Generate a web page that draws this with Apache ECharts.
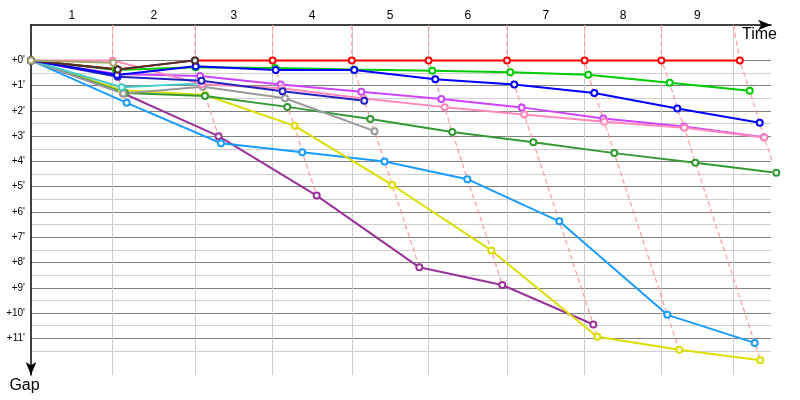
<!DOCTYPE html>
<html><head><meta charset="utf-8">
<script src="https://cdn.jsdelivr.net/npm/echarts@6/dist/echarts.min.js"></script>
<style>html,body{margin:0;padding:0;background:#fff}#c{width:800px;height:400px}</style>
</head><body><div id="c"></div>
<script>
// leader lap times (minutes) -> vertical lap lines
const lapTimes = [10.2, 20.5, 30.2, 40.1, 49.7, 59.5, 69.2, 78.8, 87.8];
const lapLabels = ['1','2','3','4','5','6','7','8','9'];
const gapLabelValues = [0,1,2,3,4,5,6,7,8,9,10,11];
const gapGridValues = [0,0.5,1,1.5,2,2.5,3,3.5,4,4.5,5,5.5,6,6.5,7,7.5,8,8.5,9,9.5,10,10.5,11,11.5];

// each rider: [time, gap] at start and at end of each lap
const purple     = [[0,0],[11.5,1.3],[23.44,3.0],[35.71,5.35],[48.54,8.19],[58.91,8.89],[70.29,10.45]];
const lightBlue  = [[0,0],[11.96,1.68],[23.75,3.28],[33.91,3.64],[44.19,4.0],[54.54,4.7],[66.04,6.37],[79.54,10.07],[90.46,11.18]];
const yellow     = [[0,0],[11.38,1.18],[21.75,1.37],[32.96,2.59],[45.15,4.93],[57.54,7.52],[70.79,10.94],[81.04,11.45],[91.16,11.87]];
const darkGreen  = [[0,0],[11.75,1.29],[21.75,1.41],[32.04,1.84],[42.41,2.32],[52.66,2.83],[62.79,3.24],[72.91,3.67],[83.04,4.05],[93.16,4.45]];
const gray       = [[0,0],[11.54,1.31],[21.46,1.04],[31.75,1.5],[42.94,2.8]];
const cyan       = [[0,0],[11.34,1.06],[21.34,0.91]];
const olive      = [[0,0],[10.29,0.09]];
const oliveGreen = [[0,0],[10.59,0.34]];
const magenta    = [[0,0],[10.75,0.54],[21.13,0.62],[31.21,0.95],[41.29,1.24],[51.29,1.53],[61.34,1.86],[71.54,2.3],[81.63,2.62],[91.63,3.04]];
const pink       = [[0,0],[10.21,0],[21.38,0.94],[31.38,1.1],[41.56,1.51],[51.71,1.85],[61.66,2.14],[71.66,2.43],[81.66,2.67],[91.66,3.05]];
const navy       = [[0,0],[10.84,0.65],[21.31,0.81],[31.44,1.22],[41.66,1.6]];
const green      = [[0,0],[10.63,0.38],[20.56,0.27],[30.5,0.3],[40.38,0.36],[50.16,0.41],[59.91,0.47],[69.66,0.57],[79.84,0.89],[89.84,1.2]];
const blue       = [[0,0],[10.75,0.58],[20.59,0.23],[30.59,0.38],[40.41,0.38],[50.54,0.75],[60.41,0.95],[70.41,1.29],[80.79,1.9],[91.09,2.47]];
const red        = [[0,0],[10.84,0.36],[20.5,0],[30.2,0],[40.1,0],[49.7,0],[59.5,0],[69.2,0],[78.8,0],[88.6,0]];
const black      = [[0,0],[10.84,0.36],[20.5,0]];

const riders = [
  {data: purple, color: '#993399'},
  {data: lightBlue, color: '#1a9cff'},
  {data: yellow, color: '#dddd00'},
  {data: darkGreen, color: '#339933'},
  {data: gray, color: '#999999'},
  {data: cyan, color: '#44cccc'},
  {data: oliveGreen, color: '#9aae2a'},
  {data: magenta, color: '#cc44ff'},
  {data: pink, color: '#ff88bb'},
  {data: navy, color: '#2222bb'},
  {data: green, color: '#00cc00'},
  {data: blue, color: '#0000ff'},
  {data: red, color: '#ff0000'},
  {data: black, color: '#443333'},
  {data: olive, color: '#a5a56e'}
];

const Y_MIN = -1.4, Y_MAX = 12.45, X_MIN = 0, X_MAX = 92.5;
const lapLabelPos = lapTimes.map((t, i) => ((i === 0 ? X_MIN : lapTimes[i - 1]) + t) / 2);

const series = [];
// dashed lines joining all riders at the end of each lap
lapTimes.forEach((t, i) => {
  const k = i + 1;
  const pts = riders.filter(r => r.data.length > k).map(r => r.data[k]).slice().sort((a, b) => a[1] - b[1]);
  series.push({
    type: 'line', data: [[t, Y_MIN]].concat(pts), symbol: 'none', clip: false, silent: true,
    lineStyle: {color: '#ff9c9c', width: 1.2, type: [5, 3]}, z: 2, animation: false
  });
});
riders.forEach(r => {
  series.push({
    type: 'line', data: r.data, symbol: 'emptyCircle', symbolSize: 6, clip: false,
    lineStyle: {color: r.color, width: 2}, itemStyle: {color: r.color, borderWidth: 1},
    z: 3, animation: false
  });
});

const chart = echarts.init(document.getElementById('c'), null, {renderer: 'canvas'});
chart.setOption({
  animation: false,
  backgroundColor: '#fff',
  grid: {left: 31, top: 25, right: 29, bottom: 25, containLabel: false},
  xAxis: {
    type: 'value', position: 'top', min: X_MIN, max: X_MAX,
    axisLine: {show: true, onZero: false, lineStyle: {color: '#000', width: 1.5}, symbol: ['none', 'arrow'], symbolSize: [8, 13]},
    axisTick: {show: false, customValues: lapTimes},
    axisLabel: {
      customValues: lapLabelPos, color: '#000', fontSize: 12, margin: 3, fontFamily: 'Liberation Sans',
      formatter: v => { const i = lapLabelPos.findIndex(p => Math.abs(p - v) < 1e-6); return i >= 0 ? lapLabels[i] : ''; }
    },
    splitLine: {show: true, lineStyle: {color: '#cccccc', width: 1}},
    name: 'Time', nameLocation: 'end', nameGap: 6,
    nameTextStyle: {color: '#000', fontSize: 16, fontFamily: 'Liberation Sans', align: 'right', verticalAlign: 'top', padding: [2, 0, 0, 0]}
  },
  yAxis: {
    type: 'value', inverse: true, min: Y_MIN, max: Y_MAX,
    axisLine: {show: true, onZero: false, lineStyle: {color: '#000', width: 1.5}, symbol: ['arrow', 'none'], symbolSize: [8, 13]},
    axisTick: {show: false, customValues: gapGridValues},
    axisLabel: {customValues: gapLabelValues, color: '#000', fontSize: 10, margin: 6, fontFamily: 'Liberation Sans', formatter: v => '+' + v + "'"},
    splitLine: {show: true, lineStyle: {color: ['#808080', '#cfcfcf'], width: 1}},
    name: 'Gap', nameLocation: 'end', nameGap: 3,
    nameTextStyle: {color: '#000', fontSize: 16, fontFamily: 'Liberation Sans', align: 'center', verticalAlign: 'top', padding: [0, 13, 0, 0]}
  },
  series: series
});
</script></body></html>
